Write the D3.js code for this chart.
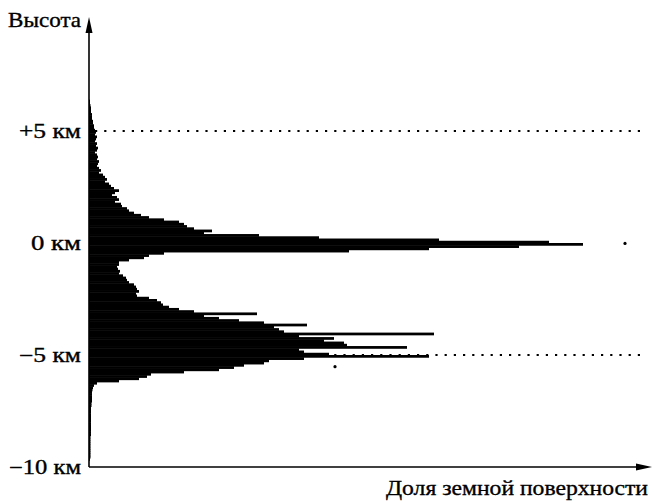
<!DOCTYPE html>
<html>
<head>
<meta charset="utf-8">
<script src="https://cdn.jsdelivr.net/npm/d3@7"></script>
<style>
  body { margin: 0; background: #fff; }
</style>
</head>
<body>
<div id="chart"></div>
<script>
// bin centres, km (0.1 km bins)
const heights = [
  6.35, 6.25, 6.15, 6.05, 5.95, 5.85, 5.75, 5.65, 5.55, 5.45,
  5.35, 5.25, 5.15, 5.05, 4.95, 4.85, 4.75, 4.65, 4.55, 4.45,
  4.35, 4.25, 4.15, 4.05, 3.95, 3.85, 3.75, 3.65, 3.55, 3.45,
  3.35, 3.25, 3.15, 3.05, 2.95, 2.85, 2.75, 2.65, 2.55, 2.45,
  2.35, 2.25, 2.15, 2.05, 1.95, 1.85, 1.75, 1.65, 1.55, 1.45,
  1.35, 1.25, 1.15, 1.05, 0.95, 0.85, 0.75, 0.65, 0.55, 0.45,
  0.35, 0.25, 0.15, 0.05, -0.05, -0.15, -0.25, -0.35, -0.45, -0.55,
  -0.65, -0.75, -0.85, -0.95, -1.05, -1.15, -1.25, -1.35, -1.45, -1.55,
  -1.65, -1.75, -1.85, -1.95, -2.05, -2.15, -2.25, -2.35, -2.45, -2.55,
  -2.65, -2.75, -2.85, -2.95, -3.05, -3.15, -3.25, -3.35, -3.45, -3.55,
  -3.65, -3.75, -3.85, -3.95, -4.05, -4.15, -4.25, -4.35, -4.45, -4.55,
  -4.65, -4.75, -4.85, -4.95, -5.05, -5.15, -5.25, -5.35, -5.45, -5.55,
  -5.65, -5.75, -5.85, -5.95, -6.05, -6.15, -6.25, -6.35, -6.45, -6.55,
  -6.65, -6.75, -6.85, -6.95, -7.05, -7.15, -7.25, -7.35, -7.45, -7.55,
  -7.65, -7.75, -7.85, -7.95, -8.05, -8.15, -8.25, -8.35, -8.45, -8.55,
  -8.65, -8.75, -8.85, -8.95, -9.05, -9.15, -9.25, -9.35, -9.45, -9.55,
  -9.65
];

// share of the surface in each bin (arbitrary units)
const shares = [
  0.01, 0.01, 0.015, 0.02, 0.02, 0.02, 0.03, 0.03, 0.03, 0.04,
  0.04, 0.05, 0.05, 0.06, 0.07, 0.06, 0.08, 0.07, 0.06, 0.08,
  0.07, 0.09, 0.08, 0.06, 0.08, 0.09, 0.08, 0.10, 0.09, 0.08,
  0.10, 0.12, 0.10, 0.14, 0.16, 0.18, 0.16, 0.20, 0.22, 0.25,
  0.30, 0.26, 0.23, 0.28, 0.30, 0.26, 0.32, 0.33, 0.38, 0.40,
  0.45, 0.52, 0.60, 0.75, 0.90, 0.95, 0.98, 1.05, 1.23, 1.15,
  1.70, 2.30, 3.50, 4.60, 4.94, 4.30, 3.40, 2.60, 0.75, 0.60,
  0.55, 0.40, 0.30, 0.30, 0.28, 0.29, 0.31, 0.30, 0.34, 0.37,
  0.38, 0.40, 0.45, 0.47, 0.48, 0.50, 0.47, 0.48, 0.60, 0.68,
  0.72, 0.74, 0.80, 0.90, 1.05, 1.68, 1.15, 1.30, 1.50, 1.75,
  2.18, 1.85, 1.90, 1.95, 3.45, 2.10, 2.45, 2.35, 2.55, 2.58,
  3.18, 2.10, 2.15, 2.40, 3.40, 2.15, 1.80, 1.75, 1.55, 1.45,
  1.30, 0.95, 0.62, 0.58, 0.50, 0.30, 0.08, 0.05, 0.04, 0.035,
  0.03, 0.03, 0.03, 0.03, 0.03, 0.025, 0.025, 0.02, 0.02, 0.02,
  0.02, 0.02, 0.02, 0.02, 0.02, 0.02, 0.02, 0.02, 0.02, 0.02,
  0.015, 0.015, 0.015, 0.015, 0.015, 0.015, 0.015, 0.015, 0.015, 0.015,
  0.01
];

// stray specks off the main profile
const speckHeights = [-0.02, -5.52];
const speckShares = [5.36, 2.46];

const tickValues = [5, 0, -5, -10];
const tickLabels = ["+5 км", "0 км", "\u22125 км", "\u221210 км"];
const tickWidths = [62, 50, 62, 72];
const guideLines = [5, -5];

const binSize = 0.1;
const width = 654, height = 501;

const x = d3.scaleLinear().domain([0, 5.61]).range([89, 650]);
const y = d3.scaleLinear().domain([-10, 5]).range([467, 131]);

const svg = d3
  .create("svg")
  .attr("width", width)
  .attr("height", height)
  .attr("font-family", "'Liberation Serif', 'DejaVu Serif', serif");

// dotted guides at +5 and -5 km
svg
  .append("g")
  .selectAll("line")
  .data(guideLines)
  .join("line")
  .attr("x1", x(0) + 6)
  .attr("x2", 642)
  .attr("y1", (d) => y(d))
  .attr("y2", (d) => y(d))
  .attr("stroke", "#000")
  .attr("stroke-width", 2.2)
  .attr("stroke-dasharray", "2.2,7");

const bins = heights.map((h, i) => ({ h, v: shares[i] }));

svg
  .append("g")
  .attr("fill", "#000")
  .selectAll("rect")
  .data(bins)
  .join("rect")
  .attr("x", x(0))
  .attr("y", (d) => y(d.h + binSize / 2))
  .attr("width", (d) => x(d.v) - x(0))
  .attr("height", (d) => y(d.h - binSize / 2) - y(d.h + binSize / 2) + 0.5);

svg
  .append("g")
  .selectAll("circle")
  .data(speckHeights)
  .join("circle")
  .attr("cx", (d, i) => x(speckShares[i]))
  .attr("cy", (d) => y(d))
  .attr("r", 1.6)
  .attr("fill", "#000");

// axes with arrow heads
const axes = svg.append("g").attr("stroke", "#000").attr("stroke-width", 1.6);
axes
  .append("line")
  .attr("x1", x(0))
  .attr("x2", x(0))
  .attr("y1", y(-10))
  .attr("y2", 26);
axes
  .append("line")
  .attr("x1", x(0))
  .attr("x2", 644)
  .attr("y1", y(-10))
  .attr("y2", y(-10));

svg
  .append("path")
  .attr("d", `M${x(0)},17 L${x(0) - 3.5},33 L${x(0) + 3.5},33 Z`)
  .attr("fill", "#000");
svg
  .append("path")
  .attr("d", `M652,${y(-10)} L636,${y(-10) - 3.5} L636,${y(-10) + 3.5} Z`)
  .attr("fill", "#000");

// labels: stretched to the widths of the scanned serif lettering
const labels = svg
  .append("g")
  .attr("fill", "#000")
  .attr("stroke", "#000")
  .attr("stroke-width", 0.35);

labels
  .append("g")
  .attr("font-size", 20)
  .attr("text-anchor", "end")
  .selectAll("text")
  .data(tickValues)
  .join("text")
  .attr("x", 81)
  .attr("y", (d) => y(d))
  .attr("dy", "0.33em")
  .attr("textLength", (d, i) => tickWidths[i])
  .attr("lengthAdjust", "spacingAndGlyphs")
  .text((d, i) => tickLabels[i]);

labels
  .append("text")
  .attr("x", 81)
  .attr("y", 27)
  .attr("text-anchor", "end")
  .attr("font-size", 21)
  .attr("textLength", 73)
  .attr("lengthAdjust", "spacingAndGlyphs")
  .text("Высота");

labels
  .append("text")
  .attr("x", 648)
  .attr("y", 495)
  .attr("text-anchor", "end")
  .attr("font-size", 21)
  .attr("textLength", 262)
  .attr("lengthAdjust", "spacingAndGlyphs")
  .text("Доля земной поверхности");

document.getElementById("chart").appendChild(svg.node());
</script>
</body>
</html>
